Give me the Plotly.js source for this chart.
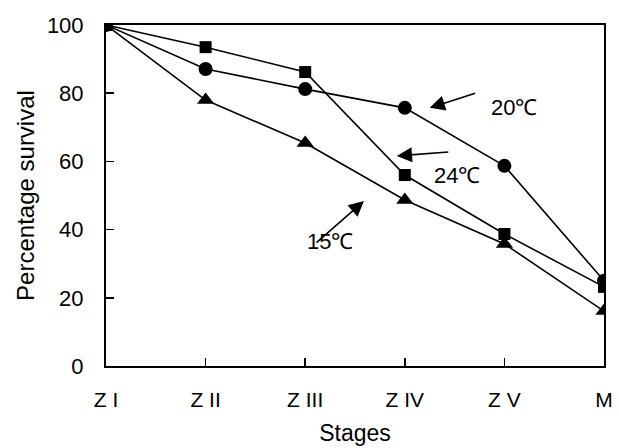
<!DOCTYPE html>
<html><head><meta charset="utf-8">
<script src="https://cdn.plot.ly/plotly-3.0.1.min.js"></script>
<style>html,body{margin:0;padding:0;background:#fff}</style>
</head><body><div id="chart" style="width:619px;height:448px"></div>
<script>
const stages = ["Z I", "Z II", "Z III", "Z IV", "Z V", "M"];
const survival24 = [100, 93.5, 86.2, 56, 38.7, 23.2];
const survival20 = [100, 87.1, 81.2, 75.7, 58.7, 25];
const survival15 = [100, 78, 65.4, 48.7, 35.8, 16.1];
const yTicks = [0, 20, 40, 60, 80, 100];

const font = "Liberation Sans, Arial, sans-serif";
const line = {color: "#000", width: 1.6};
const traces = [
  {x: stages, y: survival15, mode: "lines+markers", line, marker: {symbol: "triangle-up", size: 15, color: "#000"}},
  {x: stages, y: survival20, mode: "lines+markers", line, marker: {symbol: "circle", size: 14, color: "#000"}},
  {x: stages, y: survival24, mode: "lines+markers", line, marker: {symbol: "square", size: 12, color: "#000"}}
];
const arrowCommon = {showarrow: true, arrowhead: 2, arrowsize: 1.9, arrowwidth: 1.6, arrowcolor: "#000", text: ""};
const layout = {
  width: 619, height: 448,
  margin: {l: 106, r: 15, t: 25, b: 82},
  paper_bgcolor: "#fff", plot_bgcolor: "#fff",
  showlegend: false,
  font: {family: font, size: 22, color: "#000"},
  xaxis: {
    type: "category", range: [0, 5], categoryarray: stages,
    showline: true, mirror: true, linecolor: "#000", linewidth: 2,
    ticks: "inside", ticklen: 8, tickwidth: 1.5, tickcolor: "#000",
    showgrid: false, zeroline: false,
    ticklabelstandoff: 14,
    tickfont: {family: font, size: 21},
    title: {text: "Stages", font: {family: font, size: 23}, standoff: 15}
  },
  yaxis: {
    range: [0, 100], tickvals: yTicks,
    showline: true, mirror: true, linecolor: "#000", linewidth: 2,
    ticks: "inside", ticklen: 8, tickwidth: 1.5, tickcolor: "#000",
    showgrid: false, zeroline: false,
    ticklabelstandoff: 16,
    tickfont: {family: font, size: 22},
    title: {text: "Percentage survival", font: {family: font, size: 24}, standoff: 5}
  },
  annotations: [
    Object.assign({x: 3.25, y: 75.7, ax: 47, ay: -15}, arrowCommon),
    Object.assign({x: 2.92, y: 61.6, ax: 53, ay: -4}, arrowCommon),
    Object.assign({x: 2.59, y: 48.4, ax: -49, ay: 43}, arrowCommon),
    {x: 4.10, y: 75.9, text: "20℃", showarrow: false, font: {family: font, size: 22}},
    {x: 3.52, y: 56.0, text: "24℃", showarrow: false, font: {family: font, size: 22}},
    {x: 2.25, y: 36.6, text: "15℃", showarrow: false, font: {family: font, size: 22}}
  ]
};
Plotly.newPlot("chart", traces, layout, {displayModeBar: false, staticPlot: true});
</script></body></html>
